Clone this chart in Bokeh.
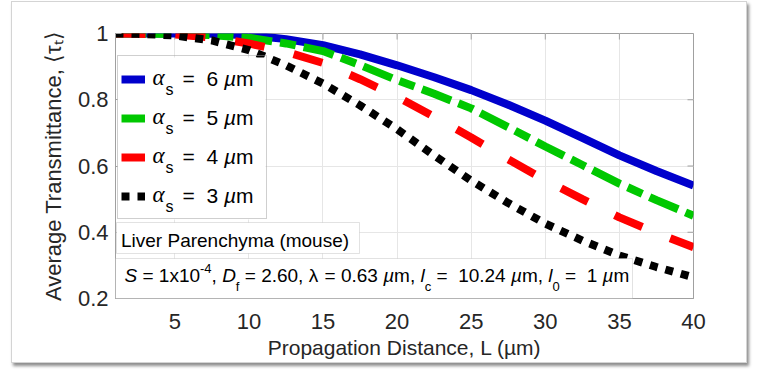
from bokeh.plotting import figure
from bokeh.models import (Range1d, FixedTicker, Legend, LegendItem, Label, BoxAnnotation)
from bokeh.embed import file_html
from bokeh.resources import INLINE

# ---------------- data ----------------
distance = [1, 2.5, 5, 7.5, 10, 12.5, 15, 17.5, 20, 22.5, 25, 27.5, 30, 32.5, 35, 37.5, 40]
trans_a6 = [1.000, 1.000, 1.000, 0.999, 0.995, 0.983, 0.965, 0.937, 0.904, 0.868, 0.829, 0.785, 0.737, 0.685, 0.632, 0.585, 0.541]
trans_a5 = [1.000, 1.000, 0.998, 0.995, 0.987, 0.970, 0.947, 0.905, 0.859, 0.818, 0.774, 0.717, 0.659, 0.603, 0.547, 0.497, 0.450]
trans_a4 = [1.000, 0.999, 0.997, 0.988, 0.970, 0.945, 0.911, 0.862, 0.809, 0.749, 0.686, 0.620, 0.557, 0.500, 0.445, 0.398, 0.355]
trans_a3 = [1.000, 0.999, 0.994, 0.979, 0.950, 0.904, 0.849, 0.783, 0.711, 0.632, 0.556, 0.488, 0.426, 0.375, 0.330, 0.295, 0.264]
alpha_s = [6, 5, 4, 3]
x_ticks = [5, 10, 15, 20, 25, 30, 35, 40]
y_ticks = [0.2, 0.4, 0.6, 0.8, 1.0]
y_tick_labels = ["0.2", "0.4", "0.6", "0.8", "1"]
tissue_text = "Liver Parenchyma (mouse)"
x_title = "Propagation Distance, L (\u00b5m)"
y_title = "Average Transmittance, \u27e8\u03c4\u209c\u27e9"

# ---------------- layout constants ----------------
FONT = "Liberation Sans"
CW, CH = 736, 362
BL, BT, BR, BB = 103, 31, 55, 66
FW, FH = CW - BL - BR, CH - BT - BB
X0, X1, Y0, Y1 = 1, 40, 0.2, 1.0

def xd(cx):
    return X0 + (cx - BL) * (X1 - X0) / FW

def yd(cy):
    return Y0 + (BT + FH - cy) * (Y1 - Y0) / FH

# Arial / Liberation Sans advance widths (per 1000 em)
W = {' ': 278, '\u00a0': 278, '=': 584, 'x': 500, '-': 333, ',': 278, '.': 278, 'S': 667,
     'D': 722, 'f': 278, 'l': 222, 'c': 500, 'm': 833, '\u00b5': 576, '\u03bb': 556,
     'P': 667, 'r': 333, 'o': 556, 'p': 556, 'a': 556, 'g': 556, 't': 278, 'i': 222,
     'n': 556, 's': 500, 'e': 556, 'L': 556, '(': 333, ')': 333, '\u03b1': 600}

def tw(s, size):
    return sum(W.get(ch, 556) for ch in s) * size / 1000.0

p = figure(width=CW, height=CH, output_backend="svg", toolbar_location=None,
           x_range=Range1d(X0, X1), y_range=Range1d(Y0, Y1),
           min_border_left=BL, min_border_right=BR, min_border_top=BT, min_border_bottom=BB,
           background_fill_color="white", border_fill_color="white")
p.styles = {"margin-left": "11px", "margin-top": "1px", "border": "1px solid #d4d4d4",
            "box-shadow": "2px 3px 3px rgba(0,0,0,0.45)"}
p.outline_line_color = "#a0a0a0"

AX_COL = "#a0a0a0"
TXT_COL = "#262626"
xa = p.xaxis[0]
ya = p.yaxis[0]
xa.ticker = FixedTicker(ticks=x_ticks)
ya.ticker = FixedTicker(ticks=y_ticks)
ya.major_label_overrides = {t: l for t, l in zip(y_ticks, y_tick_labels)}
for ax in (xa, ya):
    ax.axis_line_color = AX_COL
    ax.major_tick_line_color = AX_COL
    ax.major_tick_in = 6
    ax.major_tick_out = 0
    ax.minor_tick_line_color = None
    ax.major_label_text_font = FONT
    ax.major_label_text_font_size = "22px"
    ax.major_label_text_color = TXT_COL
    ax.axis_label_text_font = FONT
    ax.axis_label_text_font_style = "normal"
    ax.axis_label_text_color = TXT_COL
xa.major_label_standoff = 15
ya.major_label_standoff = 7
ya.axis_label = y_title
ya.axis_label_text_font_size = "22px"
ya.axis_label_standoff = 9
xa.axis_label = x_title
xa.axis_label_text_font_size = "21px"
xa.axis_label_standoff = 4

p.xgrid.ticker = FixedTicker(ticks=x_ticks)
p.ygrid.ticker = FixedTicker(ticks=y_ticks)
p.grid.grid_line_color = "#e6e6e6"

# inward ticks on the top and right edges of the box
tick_dx = 6 * (X1 - X0) / FW
tick_dy = 6 * (Y1 - Y0) / FH
p.segment(x0=x_ticks, y0=[Y1] * len(x_ticks), x1=x_ticks, y1=[Y1 - tick_dy] * len(x_ticks),
          line_color=AX_COL, line_width=1)
p.segment(x0=[X1] * len(y_ticks), y0=y_ticks, x1=[X1 - tick_dx] * len(y_ticks), y1=y_ticks,
          line_color=AX_COL, line_width=1)

styles = [
    dict(line_color="#0000cc", line_width=8, line_dash="solid"),
    dict(line_color="#00c800", line_width=8, line_dash="31 8 16 8"),
    dict(line_color="#ff0000", line_width=8, line_dash="30 30"),
    dict(line_color="#000000", line_width=8, line_dash="8 8"),
]
renderers = []
for ys, st in zip([trans_a6, trans_a5, trans_a4, trans_a3], styles):
    r = p.line(distance, ys, line_cap="butt", **st)
    renderers.append(r)

# ---- legend: white backing box, texts, then a transparent Legend on top ----
LEG_PAD, LEG_ITEM_H, LEG_X, LEG_Y = 3, 39, 2, 79
GLYPH_W, STANDOFF, LABEL_W = 24, 9, 109
leg_w = 2 * LEG_PAD + GLYPH_W + STANDOFF + LABEL_W
leg_h = 2 * LEG_PAD + len(alpha_s) * LEG_ITEM_H
leg_left = BL + LEG_X
leg_top = BT + FH - LEG_Y - leg_h
p.add_layout(BoxAnnotation(left=xd(leg_left), right=xd(leg_left + leg_w), top=yd(leg_top),
                           bottom=yd(leg_top + leg_h), fill_color="white", fill_alpha=1.0,
                           line_color=None))

# text boxes
p.add_layout(BoxAnnotation(left=xd(104), right=xd(347), top=yd(220), bottom=yd(251),
                           fill_color="white", fill_alpha=1.0, line_color="#a0a0a0", line_width=1))
p.add_layout(BoxAnnotation(left=xd(103), right=xd(620), top=yd(256), bottom=yd(296),
                           fill_color="white", fill_alpha=1.0, line_color="#a0a0a0", line_width=1))

BASE_OFF = 0.4  # Label 'alphabetic' anchor sits ~0.4 em above the drawn baseline

def add_label(cx, base_cy, text, size, style="normal", font=FONT):
    lead = len(text) - len(text.lstrip(" "))
    body = text.strip(" ").replace("  ", " \u00a0")
    if not body:
        return
    p.add_layout(Label(x=xd(cx + tw(" " * lead, size)), y=yd(base_cy - BASE_OFF * size),
                       text=body, text_font=font, text_font_size="%dpx" % size,
                       text_font_style=style, text_color="#000000", text_align="left",
                       text_baseline="alphabetic"))

def add_run(cx, base_cy, segments, main, script):
    for text, style, shift in segments:
        size = main if shift == 0 else script
        cy = base_cy + (0.42 * main if shift < 0 else (-0.52 * main if shift > 0 else 0))
        add_label(cx, cy, text, size, style)
        cx += tw(text, size)
    return cx

add_label(108.5, 246, tissue_text, 19)

# parameter line with sub/superscripts
segments = [
    ("S", "italic", 0), (" = 1x10", "normal", 0), ("-4", "normal", 1), (", ", "normal", 0),
    ("D", "italic", 0), ("f", "normal", -1), (" = 2.60, ", "normal", 0),
    ("\u03bb", "normal", 0), (" = 0.63 ", "normal", 0), ("\u00b5", "italic", 0), ("m, ", "normal", 0),
    ("l", "italic", 0), ("c", "normal", -1), (" =  10.24 ", "normal", 0),
    ("\u00b5", "italic", 0), ("m, ", "normal", 0),
    ("l", "italic", 0), ("0", "normal", -1), (" =  1 ", "normal", 0),
    ("\u00b5", "italic", 0), ("m", "normal", 0),
]
add_run(112.0, 281.0, segments, 19, 13)

# legend texts: alpha_s = N um
for i, a in enumerate(alpha_s):
    center = leg_top + LEG_PAD + (i + 0.5) * LEG_ITEM_H
    base = center + 7
    x = leg_left + LEG_PAD + GLYPH_W + STANDOFF - 1
    add_label(x, base, "\u03b1", 23, "italic", "Liberation Serif")
    add_label(x + 13, base + 9, "s", 16)
    add_run(x + 30, base, [("=  %d " % a, "normal", 0), ("\u00b5", "italic", 0), ("m", "normal", 0)], 21, 15)

legend = Legend(items=[LegendItem(label="", renderers=[r]) for r in renderers],
                location=(LEG_X, LEG_Y), orientation="vertical", padding=LEG_PAD, spacing=0,
                margin=0, glyph_width=GLYPH_W, glyph_height=20, label_height=LEG_ITEM_H,
                label_width=LABEL_W, label_standoff=STANDOFF,
                label_text_font=FONT, label_text_font_size="21px", label_text_color="#000000",
                border_line_color="#a0a0a0", border_line_width=1,
                background_fill_alpha=0.0)
p.add_layout(legend, "center")

open("out.html", "w").write(file_html(p, INLINE))
